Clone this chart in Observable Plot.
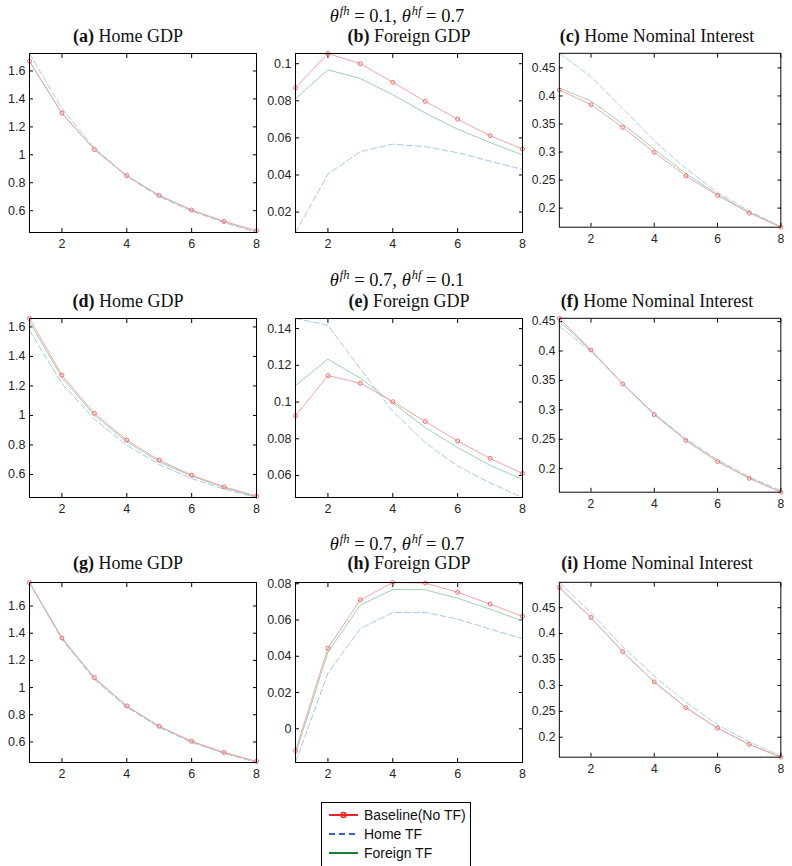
<!DOCTYPE html>
<html>
<head>
<meta charset="utf-8">
<script src="https://cdn.jsdelivr.net/npm/d3@7"></script>
<script src="https://cdn.jsdelivr.net/npm/@observablehq/plot@0.6"></script>
<style>
  html, body { margin: 0; padding: 0; background: #fff; }
  #fig { position: relative; width: 792px; height: 866px; overflow: hidden; background: #fff; }
  .panel { position: absolute; }
  .cap, .sup { position: absolute; white-space: nowrap; font-family: "Liberation Serif", "DejaVu Serif", serif; color: #111; transform: translateX(-50%); line-height: 1; }
  .cap { font-size: 18px; }
  .cap b { font-weight: bold; }
  .sup { font-size: 18.5px; }
  .sup sup { font-size: 12.5px; vertical-align: 0; position: relative; top: -7px; margin-left: 1px; }
  #legend { position: absolute; left: 321px; top: 802px; width: 148px; height: 70px; border: 1px solid #000; background: #fff;
            font-family: "Liberation Sans", Arial, sans-serif; font-size: 14px; color: #111; }
  #legend .row { position: absolute; left: 7px; height: 18px; display: flex; align-items: center; }
  #legend svg { margin-right: 5px; }
</style>
</head>
<body>
<div id="fig"></div>
<script>
// Horizon (quarters) shared by every panel
const periods = [1, 2, 3, 4, 5, 6, 7, 8];
const xTicks = [2, 4, 6, 8];

// Row 1: theta_fh = 0.1, theta_hf = 0.7
const aBase    = [1.670, 1.298, 1.038, 0.851, 0.710, 0.605, 0.523, 0.456];
const aHome    = [1.725, 1.330, 1.050, 0.845, 0.700, 0.597, 0.515, 0.444];
const aForeign = [1.668, 1.296, 1.037, 0.850, 0.709, 0.604, 0.522, 0.455];

const bBase    = [0.0870, 0.1055, 0.1000, 0.0900, 0.0797, 0.0701, 0.0612, 0.0540];
const bHome    = [0.0090, 0.0405, 0.0526, 0.0566, 0.0553, 0.0520, 0.0475, 0.0430];
const bForeign = [0.0812, 0.0967, 0.0920, 0.0833, 0.0734, 0.0647, 0.0575, 0.0508];

const cBase    = [0.4106, 0.3845, 0.3440, 0.2995, 0.2573, 0.2226, 0.1913, 0.1660];
const cHome    = [0.4760, 0.4344, 0.3780, 0.3200, 0.2705, 0.2277, 0.1953, 0.1665];
const cForeign = [0.4140, 0.3910, 0.3500, 0.3052, 0.2618, 0.2243, 0.1924, 0.1670];

// Row 2: theta_fh = 0.7, theta_hf = 0.1
const dBase    = [1.657, 1.273, 1.015, 0.833, 0.697, 0.595, 0.516, 0.453];
const dHome    = [1.577, 1.216, 0.975, 0.799, 0.668, 0.573, 0.501, 0.444];
const dForeign = [1.634, 1.257, 1.002, 0.821, 0.686, 0.589, 0.512, 0.449];

const eBase    = [0.0925, 0.1144, 0.1102, 0.1002, 0.0894, 0.0788, 0.0693, 0.0611];
const eHome    = [0.1455, 0.1418, 0.1180, 0.0950, 0.0779, 0.0651, 0.0560, 0.0480];
const eForeign = [0.1090, 0.1234, 0.1130, 0.0995, 0.0861, 0.0752, 0.0655, 0.0578];

const fBase    = [0.4555, 0.4016, 0.3440, 0.2918, 0.2478, 0.2121, 0.1835, 0.1600];
const fHome    = [0.4418, 0.3995, 0.3445, 0.2934, 0.2511, 0.2154, 0.1863, 0.1626];
const fForeign = [0.4510, 0.4010, 0.3445, 0.2925, 0.2485, 0.2128, 0.1842, 0.1605];

// Row 3: theta_fh = 0.7, theta_hf = 0.7
const gBase    = [1.773, 1.365, 1.073, 0.865, 0.716, 0.605, 0.523, 0.457];
const gHome    = [1.770, 1.355, 1.060, 0.855, 0.706, 0.597, 0.516, 0.449];
const gForeign = [1.772, 1.362, 1.070, 0.863, 0.714, 0.603, 0.521, 0.455];

const hBase    = [-0.0121, 0.0445, 0.0711, 0.0807, 0.0804, 0.0753, 0.0688, 0.0620];
const hHome    = [-0.0186, 0.0307, 0.0553, 0.0642, 0.0642, 0.0605, 0.0550, 0.0497];
const hForeign = [-0.0140, 0.0422, 0.0683, 0.0768, 0.0767, 0.0720, 0.0660, 0.0595];

const iBase    = [0.4890, 0.4312, 0.3653, 0.3068, 0.2571, 0.2176, 0.1862, 0.1615];
const iHome    = [0.4990, 0.4406, 0.3747, 0.3180, 0.2678, 0.2239, 0.1912, 0.1640];
const iForeign = [0.4885, 0.4308, 0.3650, 0.3066, 0.2570, 0.2175, 0.1861, 0.1618];

// Y tick values per panel
const gdpTicks      = [0.6, 0.8, 1, 1.2, 1.4, 1.6];
const rateTicks     = [0.2, 0.25, 0.3, 0.35, 0.4, 0.45];
const bTicks        = [0.02, 0.04, 0.06, 0.08, 0.1];
const eTicks        = [0.06, 0.08, 0.1, 0.12, 0.14];
const hTicks        = [0, 0.02, 0.04, 0.06, 0.08];

// Titles
const rowTitles = [
  ["0.1", "0.7"],
  ["0.7", "0.1"],
  ["0.7", "0.7"]
];
const panelLetters = ["a", "b", "c", "d", "e", "f", "g", "h", "i"];
const panelNames = ["Home GDP", "Foreign GDP", "Home Nominal Interest"];
const seriesNames = ["Baseline(No TF)", "Home TF", "Foreign TF"];

const panels = [
  [aBase, aHome, aForeign, gdpTicks], [bBase, bHome, bForeign, bTicks], [cBase, cHome, cForeign, rateTicks],
  [dBase, dHome, dForeign, gdpTicks], [eBase, eHome, eForeign, eTicks], [fBase, fHome, fForeign, rateTicks],
  [gBase, gHome, gForeign, gdpTicks], [hBase, hHome, hForeign, hTicks], [iBase, iHome, iForeign, rateTicks]
];

// Layout of the axes boxes
const colLeft = [29, 295, 560], colRight = [256, 522, 788];
const rowTop = [53, 318, 582], rowBottom = [232, 497, 762];
const capCenter = [128, 409, 657];
const capBaseline = [41, 306, 568];
const supCenter = 397, supBaseline = [22, 286, 550];

const colors = { base: "#f6a3a3", home: "#a4c9ec", foreign: "#9fd2ae", marker: "#ec6b6b" };
const legendColors = { base: "#e8262a", home: "#3a5fcd", foreign: "#1e7d32" };
const fmt = d => String(d);
const tickFont = 12.5;

const fig = document.getElementById("fig");

function makePanel(idx) {
  const [base, home, foreign, yTicks] = panels[idx];
  const r = Math.floor(idx / 3), c = idx % 3;
  const ML = 40, MR = 12, MT = 6, MB = 24;
  const boxW = colRight[c] - colLeft[c], boxH = rowBottom[r] - rowTop[r];
  const rows = periods.map((p, k) => ({ p, base: base[k], home: home[k], foreign: foreign[k] }));
  const all = [...base, ...home, ...foreign];
  const chart = Plot.plot({
    width: boxW + ML + MR,
    height: boxH + MT + MB,
    marginLeft: ML, marginRight: MR, marginTop: MT, marginBottom: MB,
    x: { domain: [1, 8], label: null },
    y: { domain: d3.extent(all), label: null },
    style: { fontFamily: "'Liberation Sans', Arial, sans-serif", fontSize: "12.5px", color: "#262626", background: "transparent", overflow: "visible" },
    marks: [
      Plot.axisX({ anchor: "bottom", ticks: xTicks, tickSize: 0, tickPadding: 7, tickFormat: fmt, label: null, fontSize: tickFont }),
      Plot.axisX({ anchor: "bottom", ticks: xTicks, tickSize: -4, text: null, label: null, stroke: "#000" }),
      Plot.axisX({ anchor: "top", ticks: xTicks, tickSize: -4, text: null, label: null, stroke: "#000" }),
      Plot.axisY({ anchor: "left", ticks: yTicks, tickSize: 0, tickPadding: 4, tickFormat: fmt, label: null, fontSize: tickFont }),
      Plot.axisY({ anchor: "left", ticks: yTicks, tickSize: -4, text: null, label: null, stroke: "#000" }),
      Plot.axisY({ anchor: "right", ticks: yTicks, tickSize: -4, text: null, label: null, stroke: "#000" }),
      Plot.line(rows, { x: "p", y: "home", stroke: colors.home, strokeWidth: 1, strokeDasharray: "6,3", clip: true }),
      Plot.line(rows, { x: "p", y: "foreign", stroke: colors.foreign, strokeWidth: 1, clip: true }),
      Plot.line(rows, { x: "p", y: "base", stroke: colors.base, strokeWidth: 1, clip: true }),
      Plot.dot(rows, { x: "p", y: "base", r: 2, stroke: colors.marker, strokeWidth: 1, fill: "none" }),
      Plot.frame({ stroke: "#000", strokeWidth: 1 })
    ]
  });
  const holder = document.createElement("div");
  holder.className = "panel";
  holder.style.left = (colLeft[c] - ML) + "px";
  holder.style.top = (rowTop[r] - MT) + "px";
  holder.appendChild(chart);
  fig.appendChild(holder);

  // panel caption
  const cap = document.createElement("div");
  cap.className = "cap";
  cap.innerHTML = `<b>(${panelLetters[idx]})</b> ${panelNames[c]}`;
  cap.style.left = capCenter[c] + "px";
  cap.style.top = (capBaseline[r] - 14) + "px";
  fig.appendChild(cap);
}

for (let k = 0; k < 9; k++) makePanel(k);

// Row headings with the trade-friction parameters
rowTitles.forEach(([fh, hf], r) => {
  const t = document.createElement("div");
  t.className = "sup";
  t.innerHTML = `<i>θ</i><sup><i>fh</i></sup> = ${fh}, <i>θ</i><sup><i>hf</i></sup> = ${hf}`;
  t.style.left = supCenter + "px";
  t.style.top = (supBaseline[r] - 15) + "px";
  fig.appendChild(t);
});

// Legend
const legend = document.createElement("div");
legend.id = "legend";
const legendKeys = ["base", "home", "foreign"];
legendKeys.forEach((key, k) => {
  const row = document.createElement("div");
  row.className = "row";
  row.style.top = (3 + k * 19) + "px";
  const dash = key === "home" ? 'stroke-dasharray="6,4"' : "";
  const marker = key === "base" ? `<circle cx="14.5" cy="9" r="2.5" fill="none" stroke="${legendColors.base}" stroke-width="1.5"/>` : "";
  row.innerHTML = `<svg width="30" height="18"><line x1="0" x2="29" y1="9" y2="9" stroke="${legendColors[key]}" stroke-width="2" ${dash}/>${marker}</svg><span>${seriesNames[k]}</span>`;
  legend.appendChild(row);
});
fig.appendChild(legend);
</script>
</body>
</html>
